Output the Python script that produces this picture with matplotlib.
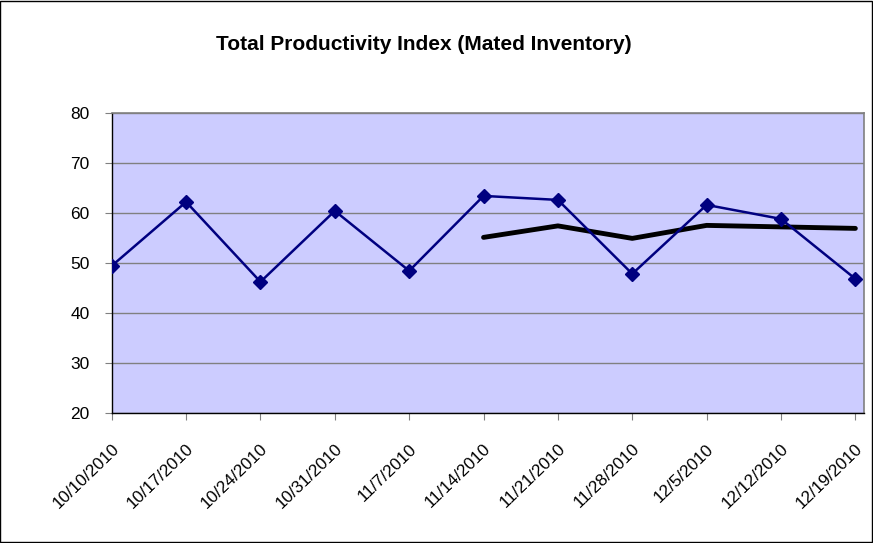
import matplotlib
matplotlib.use("Agg")
import matplotlib.pyplot as plt
from matplotlib.patches import Rectangle
from matplotlib.transforms import ScaledTranslation

plt.rcParams['font.family'] = ['Liberation Sans', 'DejaVu Sans']

# weekly dates and index values
dates = ['10/10/2010', '10/17/2010', '10/24/2010', '10/31/2010', '11/7/2010',
         '11/14/2010', '11/21/2010', '11/28/2010', '12/5/2010', '12/12/2010',
         '12/19/2010']
index_values = [49.5, 62.3, 46.3, 60.5, 48.5, 63.5, 62.7, 47.9, 61.7, 58.9, 46.9]

# moving average starts at 11/14/2010
avg_start = 5
avg_values = [55.2, 57.5, 55.0, 57.6, 57.3, 57.0]

fig = plt.figure(figsize=(8.73, 5.43), dpi=100)
ax = fig.add_axes([0.128, 0.239, 0.862, 0.552])
ax.set_facecolor('#CCCCFF')

x = list(range(len(dates)))
ax.plot(x, index_values, color='#000080', linewidth=1.8, marker='D',
        markersize=7.5, markerfacecolor='#000080', markeredgecolor='#000080',
        zorder=3)
ax.plot(x[avg_start:], avg_values, color='black', linewidth=3.5,
        solid_capstyle='round', zorder=2)

ax.set_ylim(20, 80)
ax.set_yticks(range(20, 81, 10))
ax.set_xlim(0, 10.12)
ax.set_xticks(x)
ax.set_xticklabels(dates, rotation=44, ha='right', va='center',
                   rotation_mode='anchor')

ax.grid(axis='y', color='#808080', linewidth=1)
ax.set_axisbelow(True)
ax.tick_params(axis='both', length=5, color='#808080', direction='out')
ax.tick_params(axis='y', pad=11, labelsize=12.5)
ax.tick_params(axis='x', pad=19, labelsize=12.3)

# nudge the rotated date labels to the right, like the original
shift = ScaledTranslation(5 / 100, 0, fig.dpi_scale_trans)
for lbl in ax.get_xticklabels():
    lbl.set_transform(lbl.get_transform() + shift)

for side in ['top', 'right']:
    ax.spines[side].set_color('#808080')
    ax.spines[side].set_linewidth(1.2)
for side in ['left', 'bottom']:
    ax.spines[side].set_color('black')
    ax.spines[side].set_linewidth(1)

fig.text(423.4 / 873, 1 - 50 / 543, 'Total Productivity Index (Mated Inventory)',
         ha='center', va='baseline', fontsize=15, fontweight='bold')

# chart border
fig.patches.append(Rectangle((0.0005, 0.001), 0.998, 0.997, transform=fig.transFigure,
                             fill=False, edgecolor='black', linewidth=1))

fig.savefig('out.png', dpi=100)
